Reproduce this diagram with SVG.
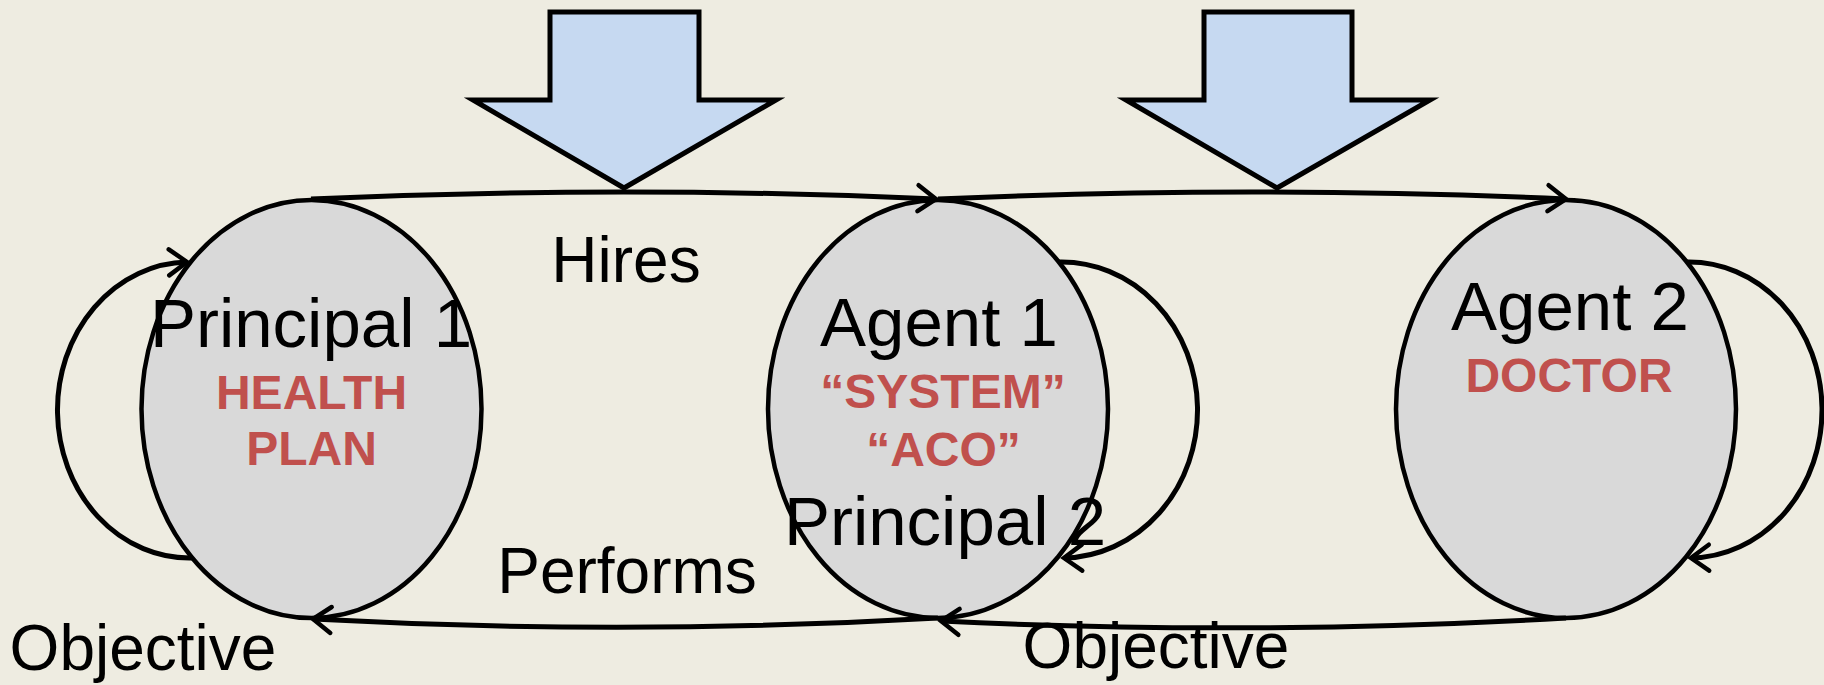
<svg xmlns="http://www.w3.org/2000/svg" width="1824" height="685" viewBox="0 0 1824 685">
<style>
.bg{fill:#EEECE1}
.blk{fill:#C6D9F1;stroke:#000;stroke-width:5;stroke-linejoin:miter}
.node{fill:#D9D9D9;stroke:#000;stroke-width:4.5}
.con{fill:none;stroke:#000;stroke-width:5}
.title{font-family:"Liberation Sans",Arial,sans-serif;font-size:69px;fill:#000;text-anchor:middle}
.red{font-family:"Liberation Sans",Arial,sans-serif;font-size:48px;font-weight:bold;fill:#C0504D;text-anchor:middle}
.lbl{font-family:"Liberation Sans",Arial,sans-serif;font-size:64px;fill:#000;text-anchor:middle}
</style>
<defs>
<marker id="open" markerUnits="userSpaceOnUse" viewBox="-24 -16 30 32" refX="0" refY="0" markerWidth="30" markerHeight="32" orient="auto" overflow="visible">
<path d="M-18,-13 L0,0 L-18,13" fill="none" stroke="#000" stroke-width="4.5" stroke-linecap="round" stroke-linejoin="miter"/>
</marker>
</defs>
<rect class="bg" x="0" y="0" width="1824" height="685"/>
<g id="input-arrow-1"><polygon class="blk" points="550,12 699,12 699,100 776,100 624,188 473,100 550,100"/></g>
<g id="input-arrow-2"><polygon class="blk" points="1204,12 1352,12 1352,100 1430,100 1277,188 1126,100 1204,100"/></g>
<g id="principal1">
<ellipse class="node" cx="311.5" cy="409" rx="170" ry="209"/>
<text class="title" x="311" y="347">Principal 1</text>
<text class="red" x="311.5" y="409">HEALTH</text>
<text class="red" x="311.5" y="465">PLAN</text>
</g>
<g id="agent1">
<ellipse class="node" cx="938" cy="409" rx="170" ry="209"/>
<text class="title" x="939" y="346">Agent 1</text>
<text class="red" x="943" y="408">“SYSTEM”</text>
<text class="red" x="943.5" y="466">“ACO”</text>
<text class="title" x="945" y="545">Principal 2</text>
</g>
<g id="agent2">
<ellipse class="node" cx="1566" cy="409" rx="170" ry="209"/>
<text class="title" x="1570" y="330">Agent 2</text>
<text class="red" x="1569" y="392">DOCTOR</text>
</g>
<g id="connectors">
<path class="con" d="M311,199 Q624,185 936,199" marker-end="url(#open)"/>
<path class="con" d="M938,199 Q1252,185 1566,199" marker-end="url(#open)"/>
<path class="con" d="M1566,618 Q1252,636 941,621" marker-end="url(#open)"/>
<path class="con" d="M938,618 Q625,636 313,619" marker-end="url(#open)"/>
<path class="con" d="M192,558 A132 148 0 0 1 187,262" marker-end="url(#open)"/>
<path class="con" d="M1059,262 A136 148 0 0 1 1064,558" marker-end="url(#open)"/>
<path class="con" d="M1687,262 A133 148 0 0 1 1691,558" marker-end="url(#open)"/>
</g>
<g id="labels">
<text class="lbl" x="626" y="282">Hires</text>
<text class="lbl" x="627" y="593">Performs</text>
<text class="lbl" x="143" y="670">Objective</text>
<text class="lbl" x="1156" y="668">Objective</text>
</g>
</svg>
